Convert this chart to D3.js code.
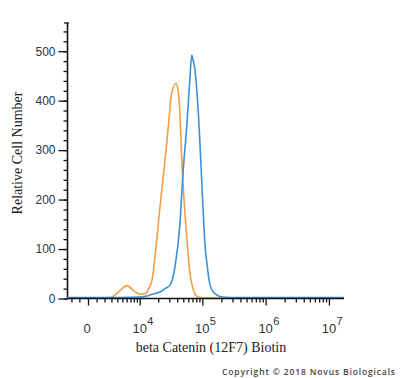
<!DOCTYPE html>
<html lang='en'>
    <head>
        <title>beta Catenin (12F7) Biotin histogram</title>
        <script src="https://d3js.org/d3.v7.min.js"></script>
        <style>
            body { margin: 0; background: white; }
            svg { display: block; }
        </style>
    </head>
    <body>
        <svg id="chart" width="400" height="378"></svg>
    </body>

    <script>
        // data (x = fluorescence intensity, y = cell count)
        const orangeX = [-2630, 900, 2780, 4130, 6090, 8080, 10110, 12700, 13660, 14740, 15880, 17720, 21330, 25620,
                         27620, 30780, 31900, 38310, 42760, 47670, 57210, 63810, 68630, 76540, 85360, 102400, 147300, 17300000];
        const orangeY = [1, 1, 2, 12, 26, 15, 9, 10, 17, 25, 37, 84, 185, 280,
                         320, 385, 407, 435, 405, 270, 118, 50, 28, 9, 3, 1, 1, 1];
        const blueX = [-2630, 5000, 10110, 13300, 14740, 17720, 21330, 25620, 30780, 36940, 44320, 49450, 57210, 63810,
                       67900, 71000, 76540, 85360, 102400, 110000, 118400, 132000, 147300, 170000, 190000, 273400, 17300000];
        const blueY = [2, 2, 3, 5, 7, 10, 13, 20, 27, 64, 152, 253, 354, 448,
                       492, 484, 462, 387, 185, 110, 70, 28, 14, 7, 4, 2, 2];

        const xMajor = [0, 1e4, 1e5, 1e6, 1e7];
        const xMajorExp = [null, 4, 5, 6, 7];
        const xMinor = [-2000, -1000, 1000, 2000, 3000, 4000, 5000, 6000, 7000, 8000, 9000,
                        2e4, 3e4, 4e4, 5e4, 6e4, 7e4, 8e4, 9e4,
                        2e5, 3e5, 4e5, 5e5, 6e5, 7e5, 8e5, 9e5,
                        2e6, 3e6, 4e6, 5e6, 6e6, 7e6, 8e6, 9e6];
        const yMajor = [0, 100, 200, 300, 400, 500];

        const svg = d3.select('#chart');

        // biexponential-like axis: linear scale on asinh(v / c)
        const c = 3128;
        const tr = v => Math.asinh(v / c);
        const xt = d3.scaleLinear().domain([tr(-2630), tr(17300000)]).range([67, 344]);
        const x = v => xt(tr(v));
        const y = d3.scaleLinear().domain([0, 555]).range([298.5, 24]);

        // y axis
        const yAxis = svg.append('g').attr('transform', 'translate(67.5,0)');
        yAxis.call(d3.axisLeft(y).tickValues(d3.range(0, 560, 20)).tickSize(4).tickFormat(''));
        yAxis.call(g => g.select('.domain').remove());
        const yMaj = svg.append('g').attr('transform', 'translate(67.5,0)')
            .call(d3.axisLeft(y).tickValues(yMajor).tickSize(9).tickPadding(3));
        yMaj.select('.domain').remove();
        yMaj.selectAll('text').attr('font-family', 'Liberation Sans, Arial, sans-serif')
            .attr('font-size', 12).attr('fill', '#333');
        svg.selectAll('.tick line').attr('stroke', '#111').attr('stroke-width', 1.3);
        svg.append('line').attr('x1', 67.5).attr('x2', 67.5).attr('y1', y(0)).attr('y2', 23)
            .attr('stroke', '#111').attr('stroke-width', 1.6);
        svg.append('line').attr('x1', 64).attr('x2', 69).attr('y1', 23).attr('y2', 23)
            .attr('stroke', '#111').attr('stroke-width', 1.3);

        // curves
        const line = d3.line().x(d => x(d[0])).y(d => y(d[1])).curve(d3.curveMonotoneX);
        svg.append('path').datum(d3.zip(orangeX, orangeY))
            .attr('d', line).attr('fill', 'none').attr('stroke', '#f39d45').attr('stroke-width', 1.6);
        svg.append('path').datum(d3.zip(blueX, blueY))
            .attr('d', line).attr('fill', 'none').attr('stroke', '#3d8fd8').attr('stroke-width', 1.6);

        // x axis
        const xg = svg.append('g').attr('transform', 'translate(0,' + y(0) + ')');
        xg.append('g').call(d3.axisBottom(xt).tickValues(xMinor.map(tr)).tickSize(4).tickFormat(''))
            .call(g => g.select('.domain').remove());
        xg.append('g').call(d3.axisBottom(xt).tickValues(xMajor.map(tr)).tickSize(7).tickFormat(''))
            .call(g => g.select('.domain').remove());
        xg.selectAll('.tick line').attr('stroke', '#111').attr('stroke-width', 1.3);
        xg.append('line').attr('x1', 67).attr('x2', 344).attr('stroke', '#111').attr('stroke-width', 1.6);

        // x tick labels with superscripts
        const lab = svg.append('g').attr('font-family', 'Liberation Sans, Arial, sans-serif').attr('fill', '#333');
        xMajor.forEach((v, i) => {
            const px = x(v);
            if (xMajorExp[i] === null) {
                lab.append('text').attr('x', px - 1).attr('y', 333).attr('text-anchor', 'middle')
                    .attr('font-size', 13).text('0');
            } else {
                lab.append('text').attr('x', px).attr('y', 333).attr('text-anchor', 'middle')
                    .attr('font-size', 13).text('10');
                lab.append('text').attr('x', px + 7.5).attr('y', 324.5)
                    .attr('font-size', 11).text(xMajorExp[i]);
            }
        });

        // titles
        svg.append('text').attr('x', 211).attr('y', 352).attr('text-anchor', 'middle')
            .attr('font-family', 'Liberation Serif, Times New Roman, serif').attr('font-size', 14)
            .attr('fill', '#222').text('beta Catenin (12F7) Biotin');
        svg.append('text').attr('transform', 'translate(22,153) rotate(-90)').attr('text-anchor', 'middle')
            .attr('font-family', 'Liberation Serif, Times New Roman, serif').attr('font-size', 14)
            .attr('fill', '#222').text('Relative Cell Number');

        // copyright
        svg.append('text').attr('x', 222).attr('y', 375)
            .attr('font-family', 'Open Sans, Liberation Sans, sans-serif').attr('font-size', 8.5)
            .attr('font-weight', 600).attr('fill', '#444')
            .attr('textLength', 173).attr('lengthAdjust', 'spacing')
            .text('Copyright \u00A9 2018 Novus Biologicals');
    </script>
</html>
